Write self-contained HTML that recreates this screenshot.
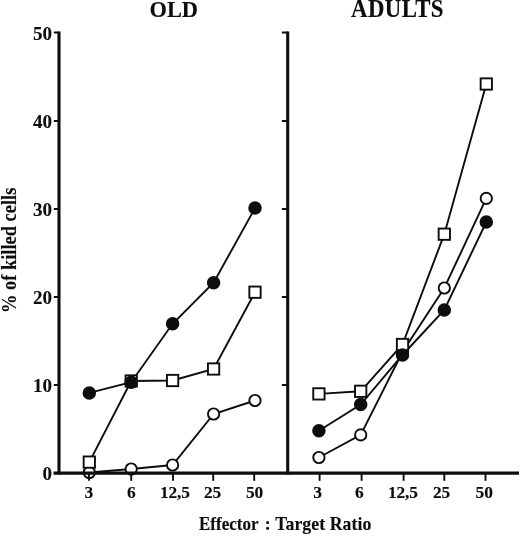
<!DOCTYPE html>
<html><head><meta charset="utf-8"><title>Chart</title>
<style>html,body{margin:0;padding:0;background:#fff}svg{display:block}text{font-family:"Liberation Serif",serif;font-weight:bold;fill:#0d0d0d;stroke:#0d0d0d;stroke-width:0.12}</style></head><body>
<svg width="520" height="536" viewBox="0 0 520 536">
<rect width="520" height="536" fill="#fff"/>
<polyline points="89.3,472.5 131.2,469 172.6,465 213.6,414 255,400.5" fill="none" stroke="#0d0d0d" stroke-width="1.9"/>
<polyline points="89.3,392.9 131.2,382.2 172.6,323.8 213.6,282.7 255,208.1" fill="none" stroke="#0d0d0d" stroke-width="1.9"/>
<polyline points="89.3,462.1 131.2,381 172.6,380.5 213.6,369 255,292.2" fill="none" stroke="#0d0d0d" stroke-width="1.9"/>
<circle cx="89.3" cy="472.5" r="5.65" fill="#fff" stroke="#0d0d0d" stroke-width="1.9"/>
<circle cx="131.2" cy="469" r="5.65" fill="#fff" stroke="#0d0d0d" stroke-width="1.9"/>
<circle cx="172.6" cy="465" r="5.65" fill="#fff" stroke="#0d0d0d" stroke-width="1.9"/>
<circle cx="213.6" cy="414" r="5.65" fill="#fff" stroke="#0d0d0d" stroke-width="1.9"/>
<circle cx="255" cy="400.5" r="5.65" fill="#fff" stroke="#0d0d0d" stroke-width="1.9"/>
<rect x="83.64999999999999" y="456.45000000000005" width="11.3" height="11.3" fill="#fff" stroke="#0d0d0d" stroke-width="1.9"/>
<rect x="125.54999999999998" y="375.35" width="11.3" height="11.3" fill="#fff" stroke="#0d0d0d" stroke-width="1.9"/>
<rect x="166.95" y="374.85" width="11.3" height="11.3" fill="#fff" stroke="#0d0d0d" stroke-width="1.9"/>
<rect x="207.95" y="363.35" width="11.3" height="11.3" fill="#fff" stroke="#0d0d0d" stroke-width="1.9"/>
<rect x="249.35" y="286.55" width="11.3" height="11.3" fill="#fff" stroke="#0d0d0d" stroke-width="1.9"/>
<circle cx="89.3" cy="392.9" r="5.8" fill="#0d0d0d" stroke="#0d0d0d" stroke-width="1.9"/>
<circle cx="131.2" cy="382.2" r="5.8" fill="#0d0d0d" stroke="#0d0d0d" stroke-width="1.9"/>
<circle cx="172.6" cy="323.8" r="5.8" fill="#0d0d0d" stroke="#0d0d0d" stroke-width="1.9"/>
<circle cx="213.6" cy="282.7" r="5.8" fill="#0d0d0d" stroke="#0d0d0d" stroke-width="1.9"/>
<circle cx="255" cy="208.1" r="5.8" fill="#0d0d0d" stroke="#0d0d0d" stroke-width="1.9"/>
<polyline points="318.9,457.5 360.7,434.9 402.5,352 444.3,288 486.3,198.4" fill="none" stroke="#0d0d0d" stroke-width="1.9"/>
<polyline points="318.9,430.8 360.7,404.5 402.5,355 444.3,310 486.3,222" fill="none" stroke="#0d0d0d" stroke-width="1.9"/>
<polyline points="318.9,393.9 360.7,391.3 402.5,344.5 444.3,234.2 486.3,84" fill="none" stroke="#0d0d0d" stroke-width="1.9"/>
<circle cx="318.9" cy="457.5" r="5.65" fill="#fff" stroke="#0d0d0d" stroke-width="1.9"/>
<circle cx="360.7" cy="434.9" r="5.65" fill="#fff" stroke="#0d0d0d" stroke-width="1.9"/>
<circle cx="402.5" cy="352" r="5.65" fill="#fff" stroke="#0d0d0d" stroke-width="1.9"/>
<circle cx="444.3" cy="288" r="5.65" fill="#fff" stroke="#0d0d0d" stroke-width="1.9"/>
<circle cx="486.3" cy="198.4" r="5.65" fill="#fff" stroke="#0d0d0d" stroke-width="1.9"/>
<rect x="313.25" y="388.25" width="11.3" height="11.3" fill="#fff" stroke="#0d0d0d" stroke-width="1.9"/>
<rect x="355.05" y="385.65000000000003" width="11.3" height="11.3" fill="#fff" stroke="#0d0d0d" stroke-width="1.9"/>
<rect x="396.85" y="338.85" width="11.3" height="11.3" fill="#fff" stroke="#0d0d0d" stroke-width="1.9"/>
<rect x="438.65000000000003" y="228.54999999999998" width="11.3" height="11.3" fill="#fff" stroke="#0d0d0d" stroke-width="1.9"/>
<rect x="480.65000000000003" y="78.35" width="11.3" height="11.3" fill="#fff" stroke="#0d0d0d" stroke-width="1.9"/>
<circle cx="318.9" cy="430.8" r="5.8" fill="#0d0d0d" stroke="#0d0d0d" stroke-width="1.9"/>
<circle cx="360.7" cy="404.5" r="5.8" fill="#0d0d0d" stroke="#0d0d0d" stroke-width="1.9"/>
<circle cx="402.5" cy="355" r="5.8" fill="#0d0d0d" stroke="#0d0d0d" stroke-width="1.9"/>
<circle cx="444.3" cy="310" r="5.8" fill="#0d0d0d" stroke="#0d0d0d" stroke-width="1.9"/>
<circle cx="486.3" cy="222" r="5.8" fill="#0d0d0d" stroke="#0d0d0d" stroke-width="1.9"/>
<g stroke="#0d0d0d" fill="none">
<line x1="59" y1="31.5" x2="59" y2="474.5" stroke-width="3.1"/>
<line x1="287.7" y1="31.5" x2="287.7" y2="474.5" stroke-width="3.1"/>
<line x1="53.5" y1="473.1" x2="519" y2="473.1" stroke-width="3.3"/>
<line x1="53.8" y1="385.0" x2="59" y2="385.0" stroke-width="2"/>
<line x1="281.9" y1="385.0" x2="287.7" y2="385.0" stroke-width="2"/>
<line x1="53.8" y1="297.0" x2="59" y2="297.0" stroke-width="2"/>
<line x1="281.9" y1="297.0" x2="287.7" y2="297.0" stroke-width="2"/>
<line x1="53.8" y1="209.0" x2="59" y2="209.0" stroke-width="2"/>
<line x1="281.9" y1="209.0" x2="287.7" y2="209.0" stroke-width="2"/>
<line x1="53.8" y1="121.0" x2="59" y2="121.0" stroke-width="2"/>
<line x1="281.9" y1="121.0" x2="287.7" y2="121.0" stroke-width="2"/>
<line x1="53.8" y1="32.5" x2="59" y2="32.5" stroke-width="2"/>
<line x1="281.9" y1="32.5" x2="287.7" y2="32.5" stroke-width="2"/>
<line x1="89" y1="473" x2="89" y2="480.8" stroke-width="1.9"/>
<line x1="131.2" y1="473" x2="131.2" y2="480.8" stroke-width="1.9"/>
<line x1="173" y1="473" x2="173" y2="480.8" stroke-width="1.9"/>
<line x1="213.2" y1="473" x2="213.2" y2="480.8" stroke-width="1.9"/>
<line x1="254.2" y1="473" x2="254.2" y2="480.8" stroke-width="1.9"/>
<line x1="319.6" y1="473" x2="319.6" y2="480.8" stroke-width="1.9"/>
<line x1="361.6" y1="473" x2="361.6" y2="480.8" stroke-width="1.9"/>
<line x1="403.6" y1="473" x2="403.6" y2="480.8" stroke-width="1.9"/>
<line x1="444.3" y1="473" x2="444.3" y2="480.8" stroke-width="1.9"/>
<line x1="485.5" y1="473" x2="485.5" y2="480.8" stroke-width="1.9"/>
</g>
<text x="52" y="480.0" font-size="19" text-anchor="end">0</text>
<text x="52" y="392.0" font-size="19" text-anchor="end">10</text>
<text x="52" y="304.0" font-size="19" text-anchor="end">20</text>
<text x="52" y="216.0" font-size="19" text-anchor="end">30</text>
<text x="52" y="128.0" font-size="19" text-anchor="end">40</text>
<text x="52" y="39.99999999999994" font-size="19" text-anchor="end">50</text>
<text transform="translate(88.8,498.4) scale(1,1.005)" font-size="17.4" text-anchor="middle">3</text>
<text transform="translate(131.3,498.4) scale(1,1.005)" font-size="17.4" text-anchor="middle">6</text>
<text transform="translate(160,498.4) scale(1,1.005)" font-size="17.4" textLength="30" lengthAdjust="spacing">12,5</text>
<text transform="translate(212.6,498.4) scale(1,1.005)" font-size="17.4" text-anchor="middle">25</text>
<text transform="translate(254.6,498.4) scale(1,1.005)" font-size="17.4" text-anchor="middle">50</text>
<text transform="translate(317.5,498.4) scale(1,1.005)" font-size="17.4" text-anchor="middle">3</text>
<text transform="translate(359.3,498.4) scale(1,1.005)" font-size="17.4" text-anchor="middle">6</text>
<text transform="translate(388,498.4) scale(1,1.005)" font-size="17.4" textLength="30" lengthAdjust="spacing">12,5</text>
<text transform="translate(441.6,498.4) scale(1,1.005)" font-size="17.4" text-anchor="middle">25</text>
<text transform="translate(484.2,498.4) scale(1,1.005)" font-size="17.4" text-anchor="middle">50</text>
<text transform="translate(149.5,17.4) scale(1,1.06)" font-size="22.4" textLength="48.5" lengthAdjust="spacing">OLD</text>
<text transform="translate(351,17.4) scale(1,1.06)" font-size="22.8" textLength="92.5" lengthAdjust="spacing">ADULTS</text>
<text y="529.9" font-size="17.8"><tspan x="199" textLength="59.6" lengthAdjust="spacingAndGlyphs">Effector</tspan><tspan x="264.8">:</tspan><tspan x="275.2" textLength="96.2" lengthAdjust="spacing">Target Ratio</tspan></text>
<text transform="translate(16.3,313) rotate(-90) scale(0.92,1.05)" font-size="20" textLength="136.2" lengthAdjust="spacing">% of killed cells</text>
</svg></body></html>
